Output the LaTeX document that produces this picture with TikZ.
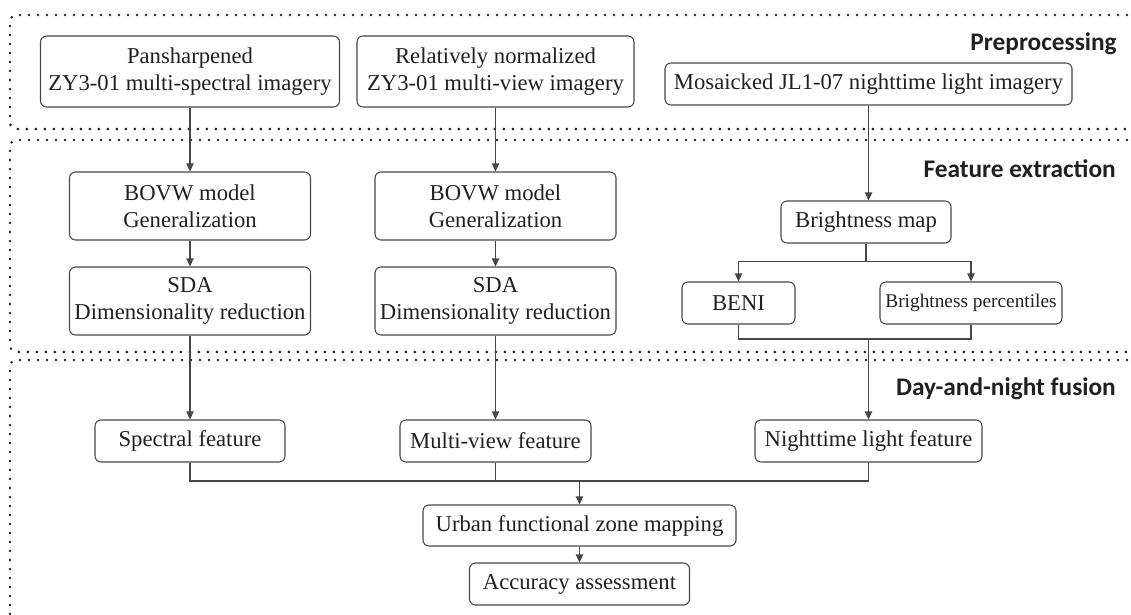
\documentclass[tikz,border=0pt]{standalone}
\usepackage{fontspec}
\setmainfont{Liberation Serif}
\newfontfamily\headfont{Carlito}
\usetikzlibrary{arrows.meta}
\definecolor{lc}{RGB}{70,70,70}
\definecolor{tc}{RGB}{35,31,32}
\tikzset{
 box/.style={draw=lc, line width=0.8pt, rounded corners=4.5pt, align=center, text=tc, inner sep=0pt, font=\fontsize{17}{20}\selectfont},
 conn/.style={draw=lc, line width=0.8pt},
 arr/.style={conn, -{Triangle[length=6pt,width=5.5pt]}},
 region/.style={draw=tc, line width=2.1pt, line cap=round, dash pattern=on 0pt off 6.75pt, rounded corners=5pt},
 head/.style={font=\headfont\bfseries\fontsize{19}{22}\selectfont, text=tc, anchor=base east, inner sep=0pt},
}
\begin{document}
\begin{tikzpicture}[x=0.75pt,y=-0.75pt]
\useasboundingbox (0,0) rectangle (1131,614);
\clip (0,0) rectangle (1131,614);
% regions
\draw[region] (1145,15) -- (10,15) -- (10,129) -- (1145,129);
\draw[region] (1145,140) -- (10,140) -- (10,352) -- (1145,352);
\draw[region] (1145,360) -- (10,360) -- (10,640);
% headings
\node[head] (hpre) at (1117,50) {Preprocessing};
\node[head] (hfe) at (1116,177) {Feature extraction};
\node[head] (hdn) at (1116,395) {Day-and-night fusion};
% nodes
\node[box, minimum width=224.25pt, minimum height=53.25pt] (pan) at (190,71.5) {Pansharpened\\ZY3-01 multi-spectral imagery};
\node[box, minimum width=207.75pt, minimum height=53.25pt] (rel) at (495.5,71.5) {Relatively normalized\\ZY3-01 multi-view imagery};
\node[box, minimum width=305.25pt, minimum height=31.5pt] (mos) at (868.5,84) {Mosaicked JL1-07 nighttime light imagery};
\node[box, minimum width=180.75pt, minimum height=51pt] (bovw1) at (190,206) {BOVW model\\Generalization};
\node[box, minimum width=180.75pt, minimum height=51pt] (bovw2) at (495.5,206) {BOVW model\\Generalization};
\node[box, minimum width=180.75pt, minimum height=51pt] (sda1) at (190,301) {SDA\\Dimensionality reduction};
\node[box, minimum width=180.75pt, minimum height=51pt] (sda2) at (495.5,301) {SDA\\Dimensionality reduction};
\node[box, minimum width=127.5pt, minimum height=31.5pt] (bmap) at (866,222) {Brightness map};
\node[box, minimum width=84.75pt, minimum height=31.5pt] (beni) at (738.5,303) {BENI};
\node[box, minimum width=136.5pt, minimum height=31.5pt, font=\fontsize{14.5}{17}\selectfont] (bperc) at (971,303) {Brightness percentiles};
\node[box, minimum width=142.5pt, minimum height=31.5pt] (spec) at (190,441) {Spectral feature};
\node[box, minimum width=143.25pt, minimum height=31.5pt] (mv) at (495.5,441) {Multi-view feature};
\node[box, minimum width=170.25pt, minimum height=31.5pt] (ntl) at (868.5,441) {Nighttime light feature};
\node[box, minimum width=234.75pt, minimum height=30.75pt] (ufz) at (579.5,525.5) {Urban functional zone mapping};
\node[box, minimum width=165pt, minimum height=31.5pt] (acc) at (579.5,584) {Accuracy assessment};
% connectors
\draw[arr] (pan) -- (bovw1);
\draw[arr] (bovw1) -- (sda1);
\draw[arr] (sda1) -- (spec);
\draw[arr] (rel) -- (bovw2);
\draw[arr] (bovw2) -- (sda2);
\draw[arr] (sda2) -- (mv);
\draw[arr] (mos.south) -- (mos.south |- bmap.north);
\draw[conn] (bmap.south) -- ++(0,18) coordinate (sp);
\draw[arr] (sp) -| (beni.north);
\draw[arr] (sp) -| (bperc.north);
\coordinate (mg) at (868.5,339);
\draw[conn] (beni.south) |- (mg);
\draw[conn] (bperc.south) |- (mg);
\draw[arr] (mg) -- (ntl.north);
\coordinate (bm) at (579.5,481);
\draw[conn] (spec.south) |- (bm);
\draw[conn] (ntl.south) |- (bm);
\draw[conn] (mv.south) -- (mv.south |- bm);
\draw[arr] (bm) -- (ufz.north);
\draw[arr] (ufz) -- (acc);
\end{tikzpicture}
\end{document}
